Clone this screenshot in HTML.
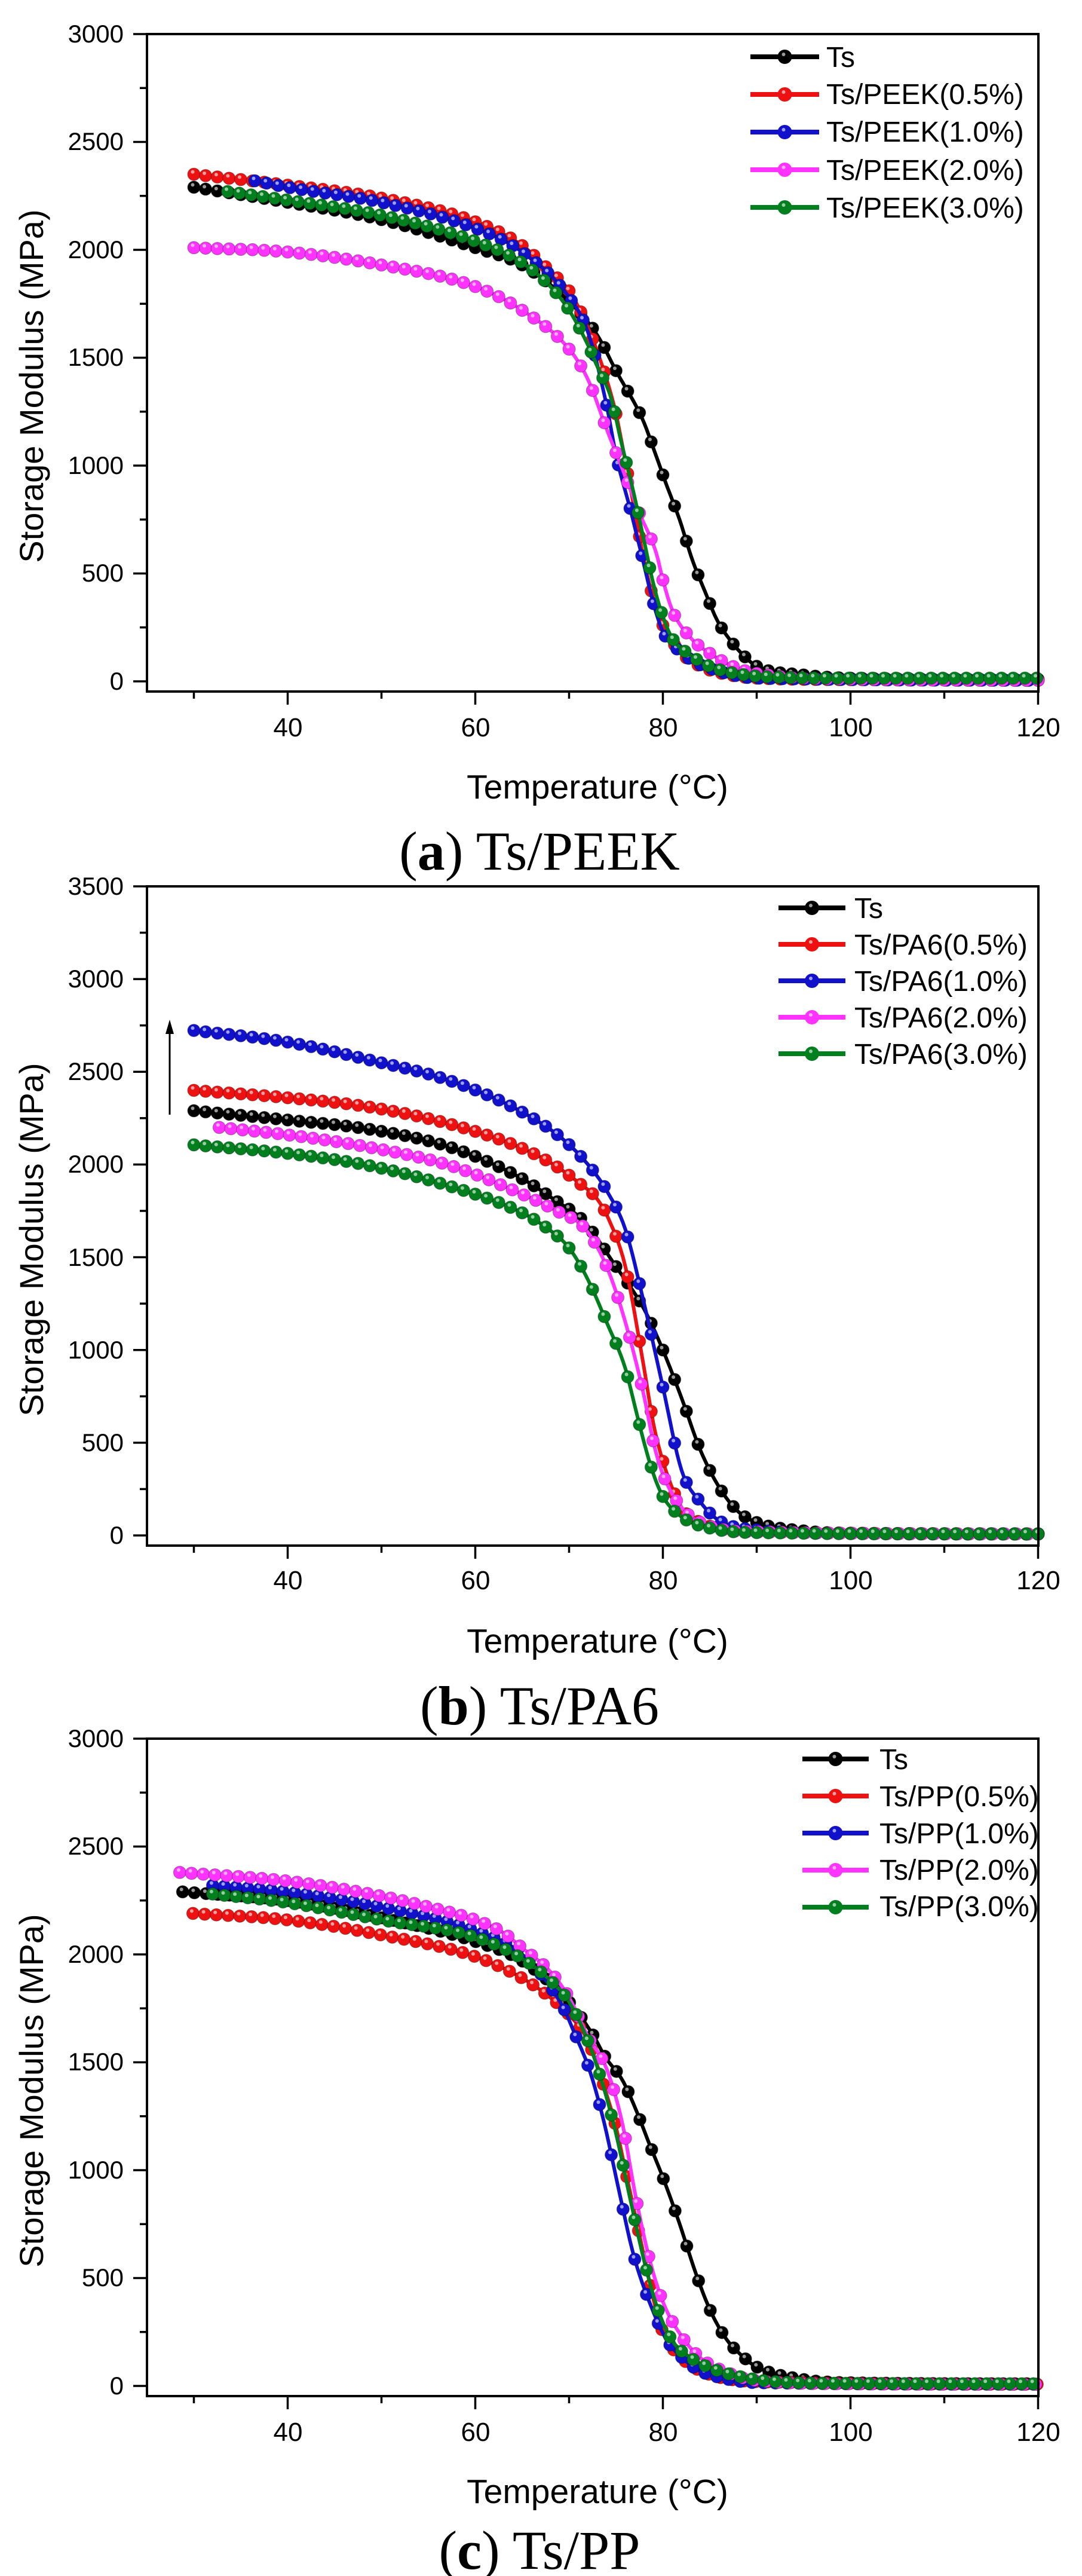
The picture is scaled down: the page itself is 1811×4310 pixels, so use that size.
<!DOCTYPE html>
<html><head><meta charset="utf-8"><style>
html,body{margin:0;padding:0;background:#fff;}
svg{display:block;}
text{font-family:"Liberation Sans",Arial,sans-serif;fill:#000;}
.cap{font-family:"Liberation Serif","Times New Roman",serif;}
</style></head><body>
<svg id="s" width="1811" height="4310" viewBox="0 0 1811 4310" xmlns="http://www.w3.org/2000/svg">
<rect width="1811" height="4310" fill="#fff"/>
<g id="plots"></g>
<!-- Panel a text -->
<g font-size="42" text-anchor="end">
<text x="207" y="1154">0</text><text x="207" y="973">500</text><text x="207" y="793">1000</text><text x="207" y="612">1500</text><text x="207" y="432">2000</text><text x="207" y="251">2500</text><text x="207" y="71">3000</text>
</g>
<g font-size="44" text-anchor="middle">
<text x="482" y="1232">40</text><text x="796" y="1232">60</text><text x="1110" y="1232">80</text><text x="1424" y="1232">100</text><text x="1738" y="1232">120</text>
</g>
<text x="1000" y="1336" font-size="57" text-anchor="middle">Temperature (°C)</text>
<text transform="translate(72,646) rotate(-90)" font-size="56" text-anchor="middle">Storage Modulus (MPa)</text>
<text class="cap" x="903" y="1455" font-size="92" text-anchor="middle">(<tspan font-weight="bold">a</tspan>) Ts/PEEK</text>
<g font-size="48">
<text x="1383" y="112">Ts</text><text x="1383" y="174">Ts/PEEK(0.5%)</text><text x="1383" y="237">Ts/PEEK(1.0%)</text><text x="1383" y="301">Ts/PEEK(2.0%)</text><text x="1383" y="364">Ts/PEEK(3.0%)</text>
</g>
<!-- Panel b text -->
<g font-size="42" text-anchor="end">
<text x="207" y="2583">0</text><text x="207" y="2428">500</text><text x="207" y="2273">1000</text><text x="207" y="2118">1500</text><text x="207" y="1962">2000</text><text x="207" y="1807">2500</text><text x="207" y="1652">3000</text><text x="207" y="1497">3500</text>
</g>
<g font-size="44" text-anchor="middle">
<text x="482" y="2659">40</text><text x="796" y="2659">60</text><text x="1110" y="2659">80</text><text x="1424" y="2659">100</text><text x="1738" y="2659">120</text>
</g>
<text x="1000" y="2765" font-size="57" text-anchor="middle">Temperature (°C)</text>
<text transform="translate(72,2074) rotate(-90)" font-size="56" text-anchor="middle">Storage Modulus (MPa)</text>
<text class="cap" x="903" y="2885" font-size="92" text-anchor="middle">(<tspan font-weight="bold">b</tspan>) Ts/PA6</text>
<g font-size="48">
<text x="1430" y="1536">Ts</text><text x="1430" y="1597">Ts/PA6(0.5%)</text><text x="1430" y="1658">Ts/PA6(1.0%)</text><text x="1430" y="1719">Ts/PA6(2.0%)</text><text x="1430" y="1780">Ts/PA6(3.0%)</text>
</g>
<!-- Panel c text -->
<g font-size="42" text-anchor="end">
<text x="207" y="4006">0</text><text x="207" y="3825">500</text><text x="207" y="3645">1000</text><text x="207" y="3464">1500</text><text x="207" y="3284">2000</text><text x="207" y="3103">2500</text><text x="207" y="2923">3000</text>
</g>
<g font-size="44" text-anchor="middle">
<text x="482" y="4084">40</text><text x="796" y="4084">60</text><text x="1110" y="4084">80</text><text x="1424" y="4084">100</text><text x="1738" y="4084">120</text>
</g>
<text x="1000" y="4188" font-size="57" text-anchor="middle">Temperature (°C)</text>
<text transform="translate(72,3498) rotate(-90)" font-size="56" text-anchor="middle">Storage Modulus (MPa)</text>
<text class="cap" x="903" y="4298" font-size="92" text-anchor="middle">(<tspan font-weight="bold">c</tspan>) Ts/PP</text>
<g font-size="48">
<text x="1472" y="2960">Ts</text><text x="1472" y="3022">Ts/PP(0.5%)</text><text x="1472" y="3084">Ts/PP(1.0%)</text><text x="1472" y="3145">Ts/PP(2.0%)</text><text x="1472" y="3206">Ts/PP(3.0%)</text>
</g>
</svg>
<script>
(function(){
var NS="http://www.w3.org/2000/svg",g=document.getElementById("plots");
function el(n,a){var e=document.createElementNS(NS,n);for(var k in a)e.setAttribute(k,a[k]);g.appendChild(e);return e;}
var COL=["#000000","#ee1111","#1111cc","#ff33ff","#007f1f"];
function X(T){return 246+(T-25)*15.7;}
function interp(p,t){
 var n=p.length;if(t<=p[0][0])return p[0][1];if(t>=p[n-1][0])return p[n-1][1];
 var d=[],m=[];for(var i=0;i<n-1;i++)d.push((p[i+1][1]-p[i][1])/(p[i+1][0]-p[i][0]));
 m[0]=d[0];m[n-1]=d[n-2];for(i=1;i<n-1;i++){m[i]=(d[i-1]*d[i]<=0)?0:(d[i-1]+d[i])/2;}
 for(i=0;i<n-1;i++){if(d[i]==0){m[i]=0;m[i+1]=0;continue;}var a=m[i]/d[i],b=m[i+1]/d[i],s=a*a+b*b;if(s>9){var tt=3/Math.sqrt(s);m[i]=tt*a*d[i];m[i+1]=tt*b*d[i];}}
 for(i=0;i<n-1;i++)if(t<=p[i+1][0])break;
 var h=p[i+1][0]-p[i][0],u=(t-p[i][0])/h,u2=u*u,u3=u2*u;
 return (2*u3-3*u2+1)*p[i][1]+(u3-2*u2+u)*h*m[i]+(-2*u3+3*u2)*p[i+1][1]+(u3-u2)*h*m[i+1];
}
function panel(top,zeroY,k,ymaxTicks,series,leg){
 var bot=zeroY+17;
 for(var v=0;v<=ymaxTicks;v+=250){var y=zeroY-v*k;var L=(v%500==0)?23:12;el("line",{x1:246-L,y1:y,x2:246,y2:y,stroke:"#000","stroke-width":3.5});}
 for(var T=30;T<=120;T+=10){var x=X(T);var L=(T%20==0)?22:12;el("line",{x1:x,y1:bot,x2:x,y2:bot+L,stroke:"#000","stroke-width":3.5});}
 series.forEach(function(s,i){
  var pts=s,t0=pts[0][0],d="";
  for(var t=t0;t<=120.01;t+=0.25){var xx=X(t),yy=zeroY-interp(pts,t)*k;d+=(d?"L":"M")+xx.toFixed(1)+" "+yy.toFixed(1);}
  el("path",{d:d,fill:"none",stroke:COL[i],"stroke-width":6});
  for(var t=t0;t<=120.01;t+=1.25){var xx=X(t),yy=zeroY-interp(pts,t)*k;
   el("circle",{cx:xx.toFixed(1),cy:yy.toFixed(1),r:10.5,fill:COL[i],stroke:"#000","stroke-opacity":0.3,"stroke-width":1.2});
   el("circle",{cx:(xx-2).toFixed(1),cy:(yy-4).toFixed(1),r:3,fill:"#fff","fill-opacity":0.6});}
 });
 el("rect",{x:246,y:top,width:1738-246,height:bot-top,fill:"none",stroke:"#000","stroke-width":4});
 for(var i=0;i<5;i++){var y=leg.y+i*leg.dy;
  el("line",{x1:leg.x1,y1:y,x2:leg.x2,y2:y,stroke:COL[i],"stroke-width":8});
  el("circle",{cx:(leg.x1+leg.x2)/2,cy:y,r:12,fill:COL[i]});
  el("circle",{cx:(leg.x1+leg.x2)/2-2,cy:y-4,r:3,fill:"#fff","fill-opacity":0.6});}
}
var A=[
[[30,2290],[40,2220],[50,2140],[60,2010],[65,1930],[70,1760],[73,1605],[75,1440],[77.9,1208],[79.1,1067],[80.3,921],[81.8,747],[83.1,568],[84.5,415],[85.8,282],[87.3,184],[88.6,120],[90,70],[95,30],[100,15],[120,10]],
[[30,2350],[40,2300],[50,2240],[60,2130],[65,2020],[68,1900],[70,1810],[72,1640],[74,1400],[75,1240],[76,1020],[77,790],[78,560],[79,380],[80,260],[82,130],[84,70],[86,40],[90,15],[100,8],[120,5]],
[[36.5,2320],[40,2290],[50,2220],[60,2100],[65,1990],[70,1780],[72,1620],[74,1280],[75,1050],[76.6,785],[77.9,556],[79,360],[80,230],[81.5,150],[83,100],[85,60],[90,15],[120,5]],
[[30,2010],[40,1990],[50,1930],[60,1830],[65,1720],[70,1540],[72,1400],[74,1170],[76,950],[77.5,780],[79.3,594],[80,470],[81,330],[83,200],[85,130],[88,60],[92,25],[100,10],[120,5]],
[[33.6,2270],[40,2230],[50,2160],[60,2040],[65,1940],[68,1830],[70,1720],[72,1560],[73,1460],[74.5,1310],[75.5,1120],[76.8,890],[78,650],[79,450],[80,300],[81,200],[83,120],[85,70],[88,35],[92,20],[100,15],[120,15]]];
var B=[
[[30,2290],[40,2240],[48.6,2191],[57.3,2094],[64.7,1932],[68.5,1808],[71.5,1697],[75,1450],[78,1220],[80,1000],[82,740],[84,460],[86,260],[88,130],[90,70],[95,25],[100,12],[120,8]],
[[30,2400],[40,2360],[48.6,2311],[57.3,2218],[64.7,2094],[68.5,1995],[71.2,1895],[72.9,1820],[74.2,1708],[76,1450],[78,900],[79,600],[80,400],[82,150],[84,70],[90,20],[120,8]],
[[30,2723],[40,2660],[48.6,2565],[57.3,2452],[64.7,2291],[69.5,2130],[72.5,1970],[74,1860],[76,1650],[78,1250],[80,800],[82,350],[84,180],[86,80],[90,30],[100,10],[120,8]],
[[32.7,2200],[40,2160],[48.6,2094],[57.3,1995],[64.7,1847],[68.8,1747],[71.6,1660],[74,1450],[76,1150],[78,750],[79,500],[80,330],[82,150],[84,70],[90,20],[120,8]],
[[30,2106],[40,2060],[48.6,1995],[57.3,1883],[64.7,1747],[67.9,1648],[70,1550],[72,1380],[74,1150],[76,900],[77,700],[78,500],[79,330],[80,210],[82,100],[85,40],[90,15],[120,8]]];
var C=[
[[28.8,2290],[40,2250],[50,2170],[60,2060],[65,1970],[70,1780],[72.7,1616],[73.8,1528],[75.7,1416],[77.1,1283],[78.5,1128],[80.1,955],[81.8,749],[83.4,536],[85,355],[86.7,221],[88.4,141],[90,88],[95,30],[100,15],[120,10]],
[[29.9,2190],[40,2160],[50,2090],[60,1990],[65,1890],[68,1800],[70,1720],[72,1600],[74,1350],[75,1200],[76,1000],[77,800],[78,600],[79,400],[80,250],[82,130],[84,70],[90,20],[120,8]],
[[32,2320],[40,2290],[50,2220],[60,2110],[65,2000],[69.3,1760],[70.5,1643],[72.2,1461],[73.7,1227],[75.3,909],[76.9,603],[78.8,363],[80.4,213],[82,133],[83.7,75],[86,40],[90,15],[120,8]],
[[28.5,2380],[40,2340],[50,2270],[55,2220],[60,2160],[63,2100],[65,2030],[68,1920],[70,1800],[72,1620],[74,1470],[75.7,1213],[77,900],[78.5,600],[80,390],[82,230],[84,130],[87,60],[90,25],[100,10],[120,8]],
[[32,2280],[40,2240],[50,2160],[60,2080],[65,1980],[68,1880],[70,1780],[72,1600],[73.5,1410],[75,1170],[76.5,870],[78,580],[79.5,350],[81,210],[83,130],[85,85],[88,45],[92,20],[100,12],[120,10]]];
panel(57,1140,1083/3000,3000,A,{x1:1256,x2:1371,y:95,dy:63});
panel(1483,2569,0.3103,3500,B,{x1:1303,x2:1415,y:1519,dy:61});
panel(2909,3992,1083/3000,3000,C,{x1:1343,x2:1454,y:2943,dy:62});
el("line",{x1:284,y1:1865,x2:284,y2:1725,stroke:"#000","stroke-width":3});
el("polygon",{points:"284,1706 277,1730 291,1730",fill:"#000"});
})();
</script>
</body></html>
